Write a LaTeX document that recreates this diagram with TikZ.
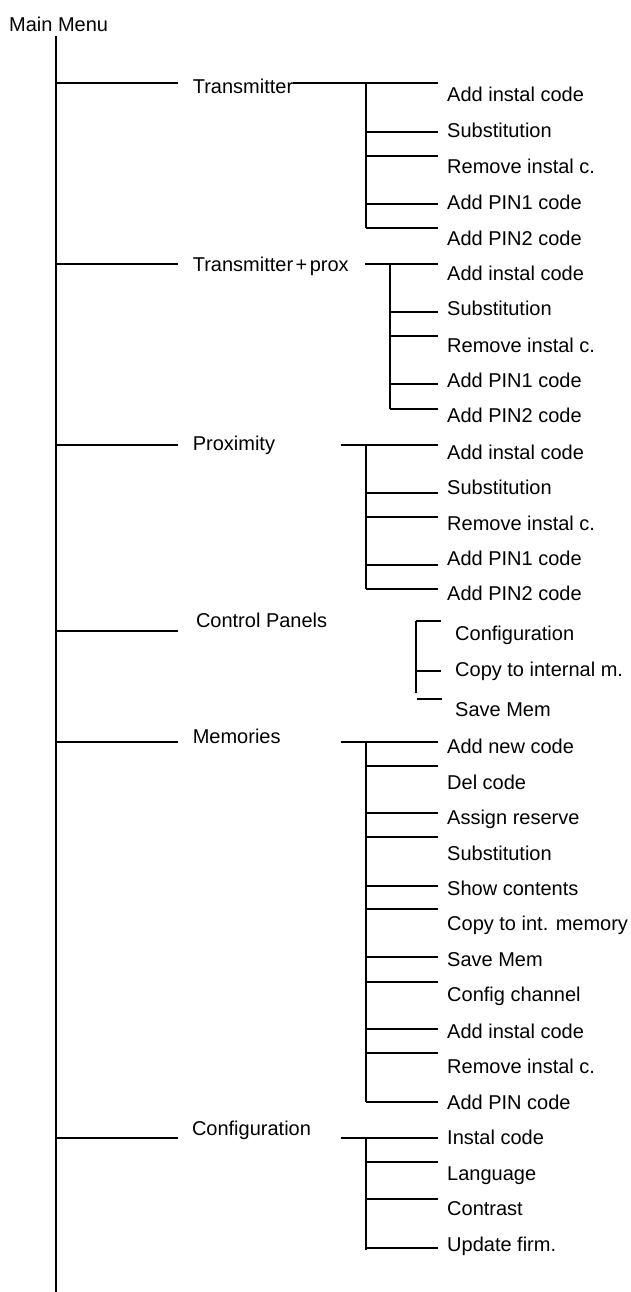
\documentclass[tikz,border=0pt]{standalone}
\usepackage{fontspec}
\setmainfont{Liberation Sans}
\begin{document}
\begin{tikzpicture}[x=1pt,y=-1pt,
  ln/.style={line width=1.9pt},
  lbl/.style={anchor=base west, inner sep=0pt, font=\fontsize{20}{24}\selectfont}]
\useasboundingbox (0,0) rectangle (631,1292);
% main trunk
\node[lbl] (main) at (9,31.7) {Main Menu};
\coordinate (mtop) at (56,36);
\coordinate (mbot) at (56,1292);
\draw[ln] (mtop) -- (mbot);
% first level
\foreach \n/\ly/\bx/\by/\t in {tr/83.3/192.6/94/Transmitter,
  tp/264.3/192.6/271.7/Transmitter\kern2.5pt+\kern2.5pt prox,
  px/445/192.6/450/Proximity,
  cp/631/195.8/627.7/Control Panels,
  me/741.7/192.6/743.3/Memories,
  cf/1137.7/191.8/1135.7/Configuration}{
  \coordinate (\n-a) at (56,\ly);
  \coordinate (\n-b) at (177.6,\ly);
  \draw[ln] (\n-a) -- (\n-b);
  \node[lbl] (\n) at (\bx,\by) {\t};
}
% ---- Transmitter
\coordinate (tr-f) at (292.7,83); \coordinate (tr-e) at (438,83);
\draw[ln] (tr-f) -- (tr-e);
\coordinate (tr-v0) at (366,83); \coordinate (tr-v1) at (366,228.3);
\draw[ln] (tr-v0) -- (tr-v1);
\foreach \y [count=\i] in {131.7,155.7,203.7,228.3}{
  \coordinate (tr-s\i) at (366,\y); \coordinate (tr-t\i) at (438,\y);
  \draw[ln] (tr-s\i) -- (tr-t\i);}
\foreach \b/\t [count=\i] in {101.7/Add instal code,137.3/Substitution,174/Remove instal c.,209/Add PIN1 code,245/Add PIN2 code}{
  \node[lbl] (tr-l\i) at (447,\b) {\t};}
% ---- Transmitter+prox
\coordinate (tp-f) at (365.4,264.3); \coordinate (tp-e) at (438,264.3);
\draw[ln] (tp-f) -- (tp-e);
\coordinate (tp-v0) at (389.6,264.3); \coordinate (tp-v1) at (389.6,409);
\draw[ln] (tp-v0) -- (tp-v1);
\foreach \y [count=\i] in {312.3,335.7,384,409}{
  \coordinate (tp-s\i) at (389.6,\y); \coordinate (tp-t\i) at (438,\y);
  \draw[ln] (tp-s\i) -- (tp-t\i);}
\foreach \b/\t [count=\i] in {280/Add instal code,315.7/Substitution,352.3/Remove instal c.,387.3/Add PIN1 code,422.7/Add PIN2 code}{
  \node[lbl] (tp-l\i) at (447,\b) {\t};}
% ---- Proximity
\coordinate (px-f) at (341,445); \coordinate (px-e) at (438,445);
\draw[ln] (px-f) -- (px-e);
\coordinate (px-v0) at (366,445); \coordinate (px-v1) at (366,589);
\draw[ln] (px-v0) -- (px-v1);
\foreach \y [count=\i] in {492.7,517,565,589}{
  \coordinate (px-s\i) at (366,\y); \coordinate (px-t\i) at (438,\y);
  \draw[ln] (px-s\i) -- (px-t\i);}
\foreach \b/\t [count=\i] in {459.3/Add instal code,494/Substitution,530/Remove instal c.,565.3/Add PIN1 code,600.7/Add PIN2 code}{
  \node[lbl] (px-l\i) at (447,\b) {\t};}
% ---- Control Panels
\coordinate (cp-v0) at (416,620.7); \coordinate (cp-v1) at (416,692.7);
\draw[ln] (cp-v0) -- (cp-v1);
\coordinate (cp-t1) at (440.7,620.7);
\draw[ln] (cp-v0) -- (cp-t1);
\coordinate (cp-s2) at (416,671); \coordinate (cp-t2) at (440.7,671);
\draw[ln] (cp-s2) -- (cp-t2);
\coordinate (cp-s3) at (417.3,698.7); \coordinate (cp-t3) at (442.3,698.7);
\draw[ln] (cp-s3) -- (cp-t3);
\foreach \b/\t [count=\i] in {640/Configuration,676.7/Copy to internal m.,716.7/Save Mem}{
  \node[lbl] (cp-l\i) at (455,\b) {\t};}
% ---- Memories
\coordinate (me-f) at (341,741.7); \coordinate (me-e) at (438,741.7);
\draw[ln] (me-f) -- (me-e);
\coordinate (me-v0) at (366,741.7); \coordinate (me-v1) at (366,1101.7);
\draw[ln] (me-v0) -- (me-v1);
\foreach \y [count=\i] in {765.7,813.3,837.3,885.7,909.3,957.3,981.7,1029.3,1053.3,1101.7}{
  \coordinate (me-s\i) at (366,\y); \coordinate (me-t\i) at (438,\y);
  \draw[ln] (me-s\i) -- (me-t\i);}
\foreach \b/\t [count=\i] in {753.3/Add new code,789.3/Del code,824/Assign reserve,860/Substitution,895/Show contents,930.7/Copy to int. memory,966.7/Save Mem,1001.7/Config channel,1038.3/Add instal code,1073.3/Remove instal c.,1109.3/Add PIN code}{
  \node[lbl] (me-l\i) at (447,\b) {\t};}
% ---- Configuration
\coordinate (cf-f) at (341,1137.7); \coordinate (cf-e) at (438,1137.7);
\draw[ln] (cf-f) -- (cf-e);
\coordinate (cf-v0) at (366,1137.7); \coordinate (cf-v1) at (366,1250);
\draw[ln] (cf-v0) -- (cf-v1);
\foreach \y [count=\i] in {1162.3,1199.3,1248.3}{
  \coordinate (cf-s\i) at (366,\y); \coordinate (cf-t\i) at (438,\y);
  \draw[ln] (cf-s\i) -- (cf-t\i);}
\foreach \b/\t [count=\i] in {1144.3/Instal code,1180/Language,1215.7/Contrast,1251/Update firm.}{
  \node[lbl] (cf-l\i) at (447,\b) {\t};}
\end{tikzpicture}
\end{document}
